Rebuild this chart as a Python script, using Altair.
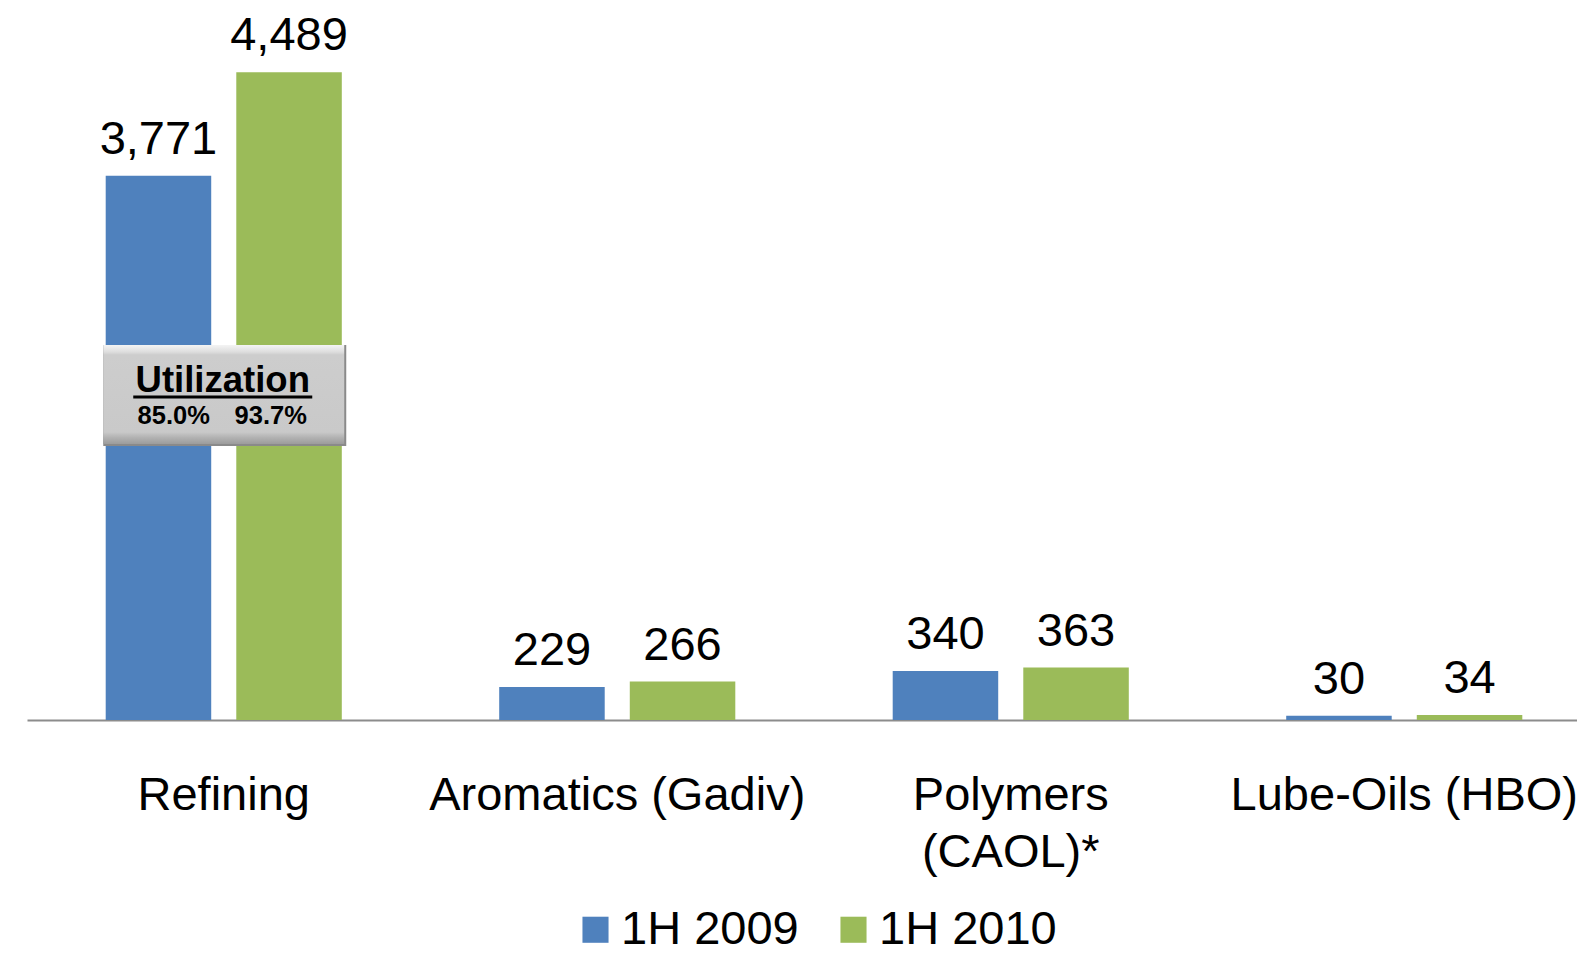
import altair as alt
import pandas as pd

FONT = "Liberation Sans"

categories = ["Refining", "Aromatics (Gadiv)", "Polymers (CAOL)*", "Lube-Oils (HBO)"]
series = ["1H 2009", "1H 2010"]
values_2009 = [3771, 229, 340, 30]
values_2010 = [4489, 266, 363, 34]
colors = ["#4F81BD", "#9BBB59"]
utilization = ["85.0%", "93.7%"]
util_title = "Utilization"

rows = []
for c, a, b in zip(categories, values_2009, values_2010):
    rows.append({"cat": c, "series": series[0], "value": a})
    rows.append({"cat": c, "series": series[1], "value": b})
df = pd.DataFrame(rows)
box_df = pd.DataFrame({"cat": [categories[0]]})

Y_MAX = 4934

xscale = alt.Scale(domain=categories, range=[0, 1574], paddingInner=0.4, paddingOuter=0.2)
xaxis = alt.Axis(
    title=None, ticks=False, tickSize=0, grid=False,
    domainColor="#8c8c8c", domainWidth=2,
    labelFont=FONT, labelFontSize=47, labelColor="black",
    labelPadding=89, labelBaseline="alphabetic", labelAngle=0,
    labelLimit=1000, labelOverlap=False, labelLineHeight=57,
    labelExpr="datum.label == 'Polymers (CAOL)*' ? ['Polymers', '(CAOL)*'] : datum.label",
)
x_enc = alt.X("cat:N", sort=categories, scale=xscale, axis=xaxis, title=None)
xoff_enc = alt.XOffset("series:N", sort=series, scale=alt.Scale(domain=series, paddingInner=0.192, paddingOuter=0))
yscale = alt.Scale(domain=[0, Y_MAX], nice=False, zero=True)
y_enc = alt.Y("value:Q", scale=yscale, axis=None)


def ydat(v):
    return alt.YDatum(v, type="quantitative", axis=None)


bars = alt.Chart(df).mark_bar(opacity=1).encode(
    x=x_enc,
    xOffset=xoff_enc,
    y=y_enc,
    color=alt.Color(
        "series:N", sort=series,
        scale=alt.Scale(domain=series, range=colors),
        legend=alt.Legend(
            orient="none", legendX=545, legendY=898, direction="horizontal",
            title=None, symbolType="square", symbolSize=680, symbolStrokeWidth=0,
            symbolOpacity=1, labelFont=FONT, labelFontSize=47, labelColor="black",
            labelOffset=2, columnPadding=31, labelLimit=1000, padding=0,
        ),
    ),
)

labels = alt.Chart(df).mark_text(
    dy=-22, baseline="alphabetic", align="center", font=FONT, fontSize=47, color="black"
).encode(
    x=x_enc, xOffset=xoff_enc, y=y_enc,
    text=alt.Text("value:Q", format=","),
)

grad = alt.LinearGradient(
    gradient="linear", x1=0, y1=0, x2=0, y2=1,
    stops=[
        alt.GradientStop(offset=0, color="#f4f4f4"),
        alt.GradientStop(offset=0.07, color="#dedede"),
        alt.GradientStop(offset=0.1, color="#cdcdcd"),
        alt.GradientStop(offset=0.88, color="#c9c9c9"),
        alt.GradientStop(offset=0.93, color="#b4b4b4"),
        alt.GradientStop(offset=1, color="#9c9c9c"),
    ],
)

box_shadow = alt.Chart(box_df).mark_tick(
    orient="horizontal", size=243, thickness=101, color="#8a8a8a", opacity=1, xOffset=1, yOffset=1
).encode(x=x_enc, y=ydat(2256))

box = alt.Chart(box_df).mark_tick(
    orient="horizontal", size=241, thickness=99, color=grad, opacity=1
).encode(x=x_enc, y=ydat(2256))

underline = alt.Chart(box_df).mark_tick(
    orient="horizontal", size=179, thickness=3, color="black", opacity=1, xOffset=-1
).encode(x=x_enc, y=ydat(2238))

title_txt = alt.Chart(box_df).mark_text(
    text=util_title, font=FONT, fontSize=36.5, fontWeight="bold", color="black",
    align="center", baseline="alphabetic", dx=-1,
).encode(x=x_enc, y=ydat(2273))

pct_a = alt.Chart(box_df).mark_text(
    text=utilization[0], font=FONT, fontSize=25.5, fontWeight="bold", color="black",
    align="center", baseline="alphabetic", dx=-50,
).encode(x=x_enc, y=ydat(2051))

pct_b = alt.Chart(box_df).mark_text(
    text=utilization[1], font=FONT, fontSize=25.5, fontWeight="bold", color="black",
    align="center", baseline="alphabetic", dx=47,
).encode(x=x_enc, y=ydat(2051))

chart = alt.layer(
    bars, labels, box_shadow, box, underline, title_txt, pct_a, pct_b
).properties(
    width=1550, height=712,
    autosize=alt.AutoSizeParams(type="none"),
    padding={"left": 19, "top": 0, "right": 0, "bottom": 230},
    background="white",
).configure_view(stroke=None)

chart.save("out.html", embed_options={"renderer": "svg", "actions": False})
